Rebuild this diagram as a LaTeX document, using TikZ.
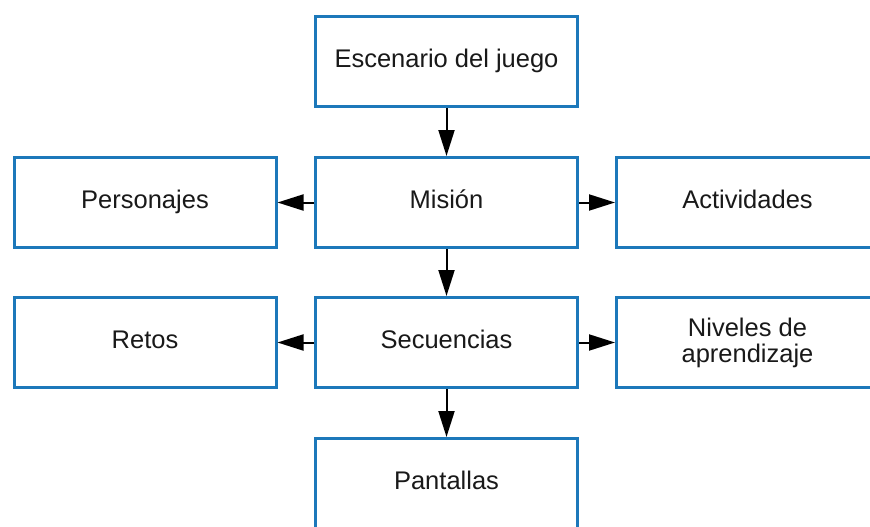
\documentclass[tikz,border=0pt]{standalone}
\usepackage{fontspec}
\setmainfont{Liberation Sans}
\usetikzlibrary{arrows.meta}
\definecolor{boxblue}{RGB}{28,120,186}
\begin{document}
\begin{tikzpicture}[x=1pt,y=-1pt,
  box/.style={draw=boxblue,line width=3pt,minimum width=262pt,minimum height=90pt,inner sep=0pt,font=\fontsize{25.5}{26}\selectfont,align=center,text=black!90},
  oneline/.style={text height=18.5pt,text depth=7.5pt},
  conn/.style={line width=2pt,-{Triangle[length=26pt,width=16pt]}}]
\useasboundingbox (0,0) rectangle (870,527);
\clip (0,0) rectangle (870,527);
\fill[white] (0,0) rectangle (870,527);
\node[box,oneline] (esc) at (446.5,61.5) {Escenario del juego};
\node[box,oneline] (mis) at (446.5,202.5) {Misión};
\node[box,oneline] (per) at (145,202.5) {Personajes};
\node[box,oneline] (act) at (747.5,202.5) {Actividades};
\node[box,oneline] (sec) at (446.5,342.5) {Secuencias};
\node[box,oneline] (ret) at (145,342.5) {Retos};
\node[box] (niv) at (747.5,342.5) {Niveles de\\aprendizaje};
\node[box,oneline] (pan) at (446.5,483.5) {Pantallas};
\draw[conn] (esc) -- (mis);
\draw[conn] (mis) -- (per);
\draw[conn] (mis) -- (act);
\draw[conn] (mis) -- (sec);
\draw[conn] (sec) -- (ret);
\draw[conn] (sec) -- (niv);
\draw[conn] (sec) -- (pan);
\end{tikzpicture}
\end{document}
